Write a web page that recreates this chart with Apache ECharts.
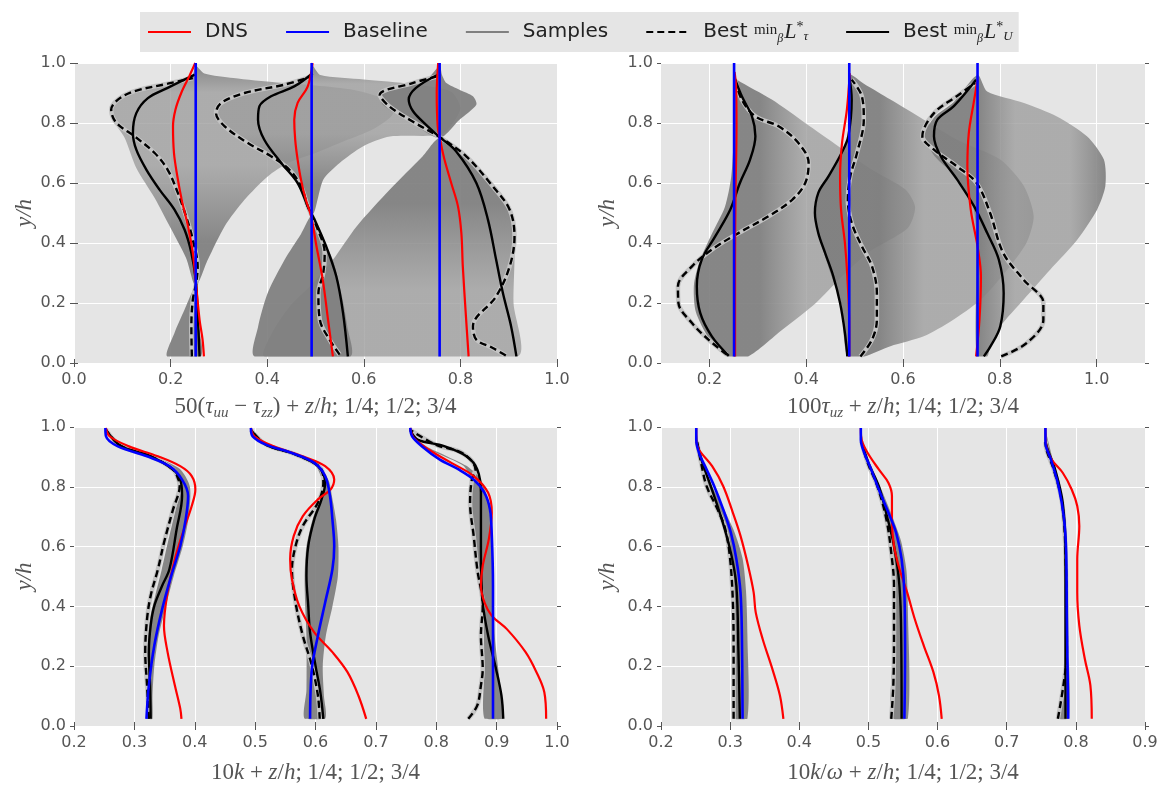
<!DOCTYPE html>
<html>
<head>
<meta charset="utf-8">
<script src="https://cdn.jsdelivr.net/npm/echarts@6/dist/echarts.min.js"></script>
<style>
  html, body { margin: 0; padding: 0; background: #fff; }
  #chart { width: 1165px; height: 788px; }
</style>
</head>
<body>
<div id="chart"></div>
<script>
// profiles at z/h = 1/4, 1/2, 3/4 ; points are [x, y/h]

// ---- top left: 50(tau_uu - tau_zz) + z/h
const tlBase = [
  [[0.252, 0.022], [0.252, 1.0]],
  [[0.492, 0.022], [0.492, 1.0]],
  [[0.757, 0.022], [0.757, 1.0]]
];
const tlDns = [
  [[0.269, 0.022], [0.266, 0.08], [0.260, 0.144], [0.253, 0.256], [0.246, 0.367], [0.236, 0.456], [0.223, 0.544], [0.214, 0.622], [0.207, 0.70], [0.205, 0.789], [0.210, 0.844], [0.222, 0.90], [0.239, 0.957], [0.251, 1.0]],
  [[0.536, 0.022], [0.526, 0.144], [0.515, 0.278], [0.502, 0.389], [0.491, 0.489], [0.480, 0.544], [0.470, 0.611], [0.463, 0.678], [0.458, 0.744], [0.456, 0.811], [0.463, 0.867], [0.484, 0.922], [0.494, 1.0]],
  [[0.817, 0.022], [0.811, 0.167], [0.805, 0.322], [0.802, 0.433], [0.795, 0.522], [0.781, 0.60], [0.767, 0.678], [0.758, 0.744], [0.753, 0.789], [0.751, 0.90], [0.754, 1.0]]
];
const tlSolid = [
  [[0.260, 0.022], [0.256, 0.167], [0.252, 0.278], [0.243, 0.367], [0.229, 0.444], [0.208, 0.511], [0.177, 0.578], [0.150, 0.644], [0.129, 0.711], [0.122, 0.767], [0.129, 0.833], [0.153, 0.883], [0.194, 0.917], [0.250, 0.961]],
  [[0.567, 0.022], [0.557, 0.167], [0.543, 0.289], [0.522, 0.389], [0.498, 0.478], [0.484, 0.522], [0.463, 0.60], [0.429, 0.667], [0.394, 0.744], [0.381, 0.811], [0.384, 0.856], [0.408, 0.889], [0.456, 0.922], [0.494, 0.966]],
  [[0.916, 0.022], [0.905, 0.122], [0.888, 0.233], [0.874, 0.344], [0.857, 0.478], [0.833, 0.60], [0.791, 0.706], [0.757, 0.753], [0.729, 0.794], [0.702, 0.839], [0.693, 0.878], [0.708, 0.917], [0.753, 0.961]]
];
const tlDashed = [
  [[0.244, 0.022], [0.243, 0.122], [0.246, 0.211], [0.253, 0.267], [0.256, 0.322], [0.246, 0.411], [0.232, 0.489], [0.215, 0.567], [0.194, 0.644], [0.167, 0.70], [0.125, 0.756], [0.088, 0.80], [0.077, 0.844], [0.091, 0.878], [0.125, 0.906], [0.194, 0.931], [0.246, 0.950]],
  [[0.550, 0.028], [0.529, 0.078], [0.509, 0.144], [0.506, 0.233], [0.516, 0.30], [0.519, 0.367], [0.502, 0.456], [0.484, 0.522], [0.470, 0.589], [0.446, 0.644], [0.408, 0.689], [0.360, 0.733], [0.312, 0.789], [0.294, 0.833], [0.305, 0.867], [0.353, 0.90], [0.436, 0.928], [0.494, 0.956]],
  [[0.894, 0.025], [0.867, 0.05], [0.833, 0.078], [0.826, 0.122], [0.874, 0.222], [0.902, 0.322], [0.912, 0.422], [0.902, 0.511], [0.867, 0.589], [0.812, 0.689], [0.757, 0.753], [0.701, 0.805], [0.653, 0.855], [0.633, 0.894], [0.701, 0.933], [0.753, 0.956]]
];
// sample envelopes (outline of the grey band)
const tlBandDark = [
  [[0.193, 0.022], [0.208, 0.10], [0.229, 0.178], [0.252, 0.256], [0.256, 0.144], [0.263, 0.022]],
  [[0.374, 0.022], [0.381, 0.12], [0.401, 0.233], [0.436, 0.344], [0.47, 0.43], [0.494, 0.494], [0.516, 0.411], [0.536, 0.344], [0.555, 0.22], [0.566, 0.12], [0.572, 0.022]],
  [[0.757, 0.75], [0.70, 0.80], [0.64, 0.86], [0.635, 0.89], [0.68, 0.925], [0.73, 0.945], [0.757, 0.99], [0.762, 0.96], [0.771, 0.933], [0.798, 0.911], [0.826, 0.889], [0.833, 0.861], [0.798, 0.811]]
];
const tlBandLobe = [
  [[0.252, 0.256], [0.232, 0.35], [0.20, 0.45], [0.167, 0.55], [0.129, 0.65], [0.105, 0.75], [0.085, 0.80], [0.075, 0.845], [0.09, 0.88], [0.13, 0.905], [0.19, 0.93], [0.243, 0.95], [0.252, 0.99], [0.27, 0.965], [0.33, 0.95], [0.42, 0.935], [0.50, 0.925], [0.58, 0.91], [0.64, 0.88], [0.66, 0.83], [0.62, 0.78], [0.56, 0.74], [0.50, 0.70], [0.443, 0.667], [0.401, 0.622], [0.353, 0.544], [0.312, 0.456], [0.277, 0.344]],
  [[0.494, 0.494], [0.47, 0.58], [0.446, 0.635], [0.40, 0.69], [0.35, 0.74], [0.305, 0.79], [0.29, 0.835], [0.30, 0.87], [0.35, 0.90], [0.43, 0.93], [0.49, 0.955], [0.494, 0.99], [0.51, 0.96], [0.60, 0.945], [0.70, 0.93], [0.78, 0.905], [0.80, 0.85], [0.78, 0.79], [0.757, 0.76], [0.654, 0.755], [0.598, 0.722], [0.55, 0.667], [0.516, 0.611]],
  [[0.757, 0.75], [0.722, 0.689], [0.654, 0.578], [0.585, 0.455], [0.536, 0.344], [0.488, 0.255], [0.447, 0.189], [0.41, 0.10], [0.395, 0.022], [0.918, 0.022], [0.91, 0.2], [0.912, 0.35], [0.91, 0.45], [0.89, 0.55], [0.85, 0.63], [0.80, 0.70]]
];

// ---- top right: 100 tau_uz + z/h
const trBase = [
  [[0.251, 0.022], [0.251, 1.0]],
  [[0.489, 0.022], [0.489, 1.0]],
  [[0.754, 0.022], [0.754, 1.0]]
];
const trDns = [
  [[0.253, 0.022], [0.253, 0.344], [0.254, 0.567], [0.256, 0.789], [0.255, 0.922], [0.252, 0.97]],
  [[0.489, 0.022], [0.489, 0.122], [0.485, 0.289], [0.480, 0.40], [0.472, 0.511], [0.470, 0.622], [0.474, 0.733], [0.484, 0.844], [0.490, 0.966]],
  [[0.751, 0.022], [0.758, 0.144], [0.761, 0.289], [0.754, 0.389], [0.740, 0.511], [0.733, 0.656], [0.736, 0.767], [0.746, 0.867], [0.754, 0.944]]
];
const trSolid = [
  [[0.240, 0.024], [0.205, 0.089], [0.181, 0.167], [0.174, 0.256], [0.184, 0.344], [0.212, 0.422], [0.243, 0.511], [0.263, 0.60], [0.284, 0.678], [0.295, 0.756], [0.288, 0.822], [0.267, 0.889], [0.251, 0.955]],
  [[0.485, 0.022], [0.480, 0.10], [0.470, 0.20], [0.456, 0.289], [0.439, 0.367], [0.425, 0.433], [0.418, 0.50], [0.425, 0.567], [0.446, 0.622], [0.473, 0.70], [0.487, 0.756], [0.494, 0.878], [0.489, 0.955]],
  [[0.767, 0.022], [0.781, 0.056], [0.801, 0.122], [0.808, 0.233], [0.798, 0.344], [0.774, 0.433], [0.747, 0.522], [0.712, 0.611], [0.678, 0.689], [0.664, 0.756], [0.671, 0.811], [0.705, 0.856], [0.751, 0.944]]
];
const trDashed = [
  [[0.236, 0.028], [0.198, 0.078], [0.164, 0.133], [0.136, 0.20], [0.135, 0.256], [0.164, 0.322], [0.205, 0.378], [0.260, 0.433], [0.322, 0.489], [0.371, 0.544], [0.398, 0.60], [0.405, 0.667], [0.384, 0.733], [0.343, 0.789], [0.295, 0.822], [0.267, 0.878], [0.253, 0.944]],
  [[0.512, 0.022], [0.536, 0.078], [0.546, 0.144], [0.546, 0.233], [0.536, 0.322], [0.515, 0.389], [0.494, 0.467], [0.486, 0.544], [0.491, 0.622], [0.505, 0.70], [0.519, 0.811], [0.515, 0.889], [0.494, 0.944]],
  [[0.803, 0.022], [0.856, 0.067], [0.890, 0.144], [0.890, 0.20], [0.849, 0.278], [0.807, 0.367], [0.780, 0.50], [0.752, 0.60], [0.711, 0.656], [0.664, 0.711], [0.640, 0.756], [0.664, 0.833], [0.711, 0.889], [0.749, 0.933]]
];
const trBandDark = [];
const trBandLobe = [
  [[0.236, 0.022], [0.20, 0.08], [0.172, 0.17], [0.168, 0.26], [0.18, 0.34], [0.205, 0.43], [0.232, 0.52], [0.245, 0.62], [0.25, 0.75], [0.251, 0.96], [0.257, 0.944], [0.329, 0.878], [0.398, 0.80], [0.467, 0.722], [0.536, 0.644], [0.605, 0.578], [0.625, 0.52], [0.61, 0.45], [0.53, 0.37], [0.474, 0.289], [0.42, 0.20], [0.35, 0.11], [0.28, 0.022]],
  [[0.485, 0.022], [0.472, 0.2], [0.45, 0.3], [0.425, 0.43], [0.416, 0.5], [0.425, 0.57], [0.446, 0.625], [0.473, 0.70], [0.487, 0.76], [0.489, 0.96], [0.52, 0.93], [0.574, 0.878], [0.643, 0.811], [0.712, 0.744], [0.801, 0.678], [0.850, 0.589], [0.870, 0.489], [0.855, 0.40], [0.81, 0.30], [0.76, 0.21], [0.70, 0.14], [0.643, 0.089], [0.574, 0.056], [0.52, 0.022]],
  [[0.752, 0.022], [0.752, 0.40], [0.745, 0.52], [0.71, 0.62], [0.665, 0.69], [0.645, 0.76], [0.665, 0.82], [0.705, 0.87], [0.754, 0.96], [0.774, 0.905], [0.850, 0.867], [0.918, 0.822], [0.980, 0.756], [1.015, 0.678], [1.018, 0.589], [1.001, 0.511], [0.960, 0.411], [0.904, 0.311], [0.849, 0.211], [0.801, 0.122], [0.780, 0.056], [0.774, 0.022]]
];

// ---- bottom left: 10k + z/h
const blBase = [
  [[0.320, 0.024], [0.324, 0.136], [0.333, 0.269], [0.346, 0.391], [0.361, 0.502], [0.376, 0.602], [0.385, 0.691], [0.389, 0.769], [0.379, 0.824], [0.358, 0.869], [0.321, 0.902], [0.272, 0.936], [0.253, 0.969], [0.252, 0.997]],
  [[0.591, 0.024], [0.594, 0.191], [0.604, 0.302], [0.616, 0.413], [0.628, 0.524], [0.631, 0.602], [0.628, 0.691], [0.624, 0.769], [0.616, 0.836], [0.598, 0.88], [0.561, 0.913], [0.518, 0.941], [0.496, 0.969], [0.493, 0.997]],
  [[0.894, 0.024], [0.894, 0.247], [0.894, 0.469], [0.892, 0.636], [0.889, 0.724], [0.880, 0.78], [0.862, 0.824], [0.837, 0.858], [0.806, 0.891], [0.776, 0.936], [0.760, 0.969], [0.757, 0.997]]
];
const blDns = [
  [[0.378, 0.024], [0.376, 0.058], [0.367, 0.136], [0.355, 0.247], [0.349, 0.336], [0.355, 0.447], [0.367, 0.558], [0.382, 0.658], [0.395, 0.736], [0.401, 0.791], [0.395, 0.836], [0.376, 0.869], [0.339, 0.902], [0.290, 0.936], [0.259, 0.969], [0.253, 0.997]],
  [[0.684, 0.024], [0.671, 0.102], [0.653, 0.18], [0.628, 0.247], [0.598, 0.313], [0.573, 0.402], [0.561, 0.491], [0.558, 0.558], [0.564, 0.636], [0.579, 0.702], [0.604, 0.758], [0.625, 0.791], [0.631, 0.824], [0.616, 0.869], [0.579, 0.902], [0.530, 0.936], [0.499, 0.969], [0.493, 0.997]],
  [[0.982, 0.024], [0.979, 0.113], [0.966, 0.18], [0.948, 0.247], [0.917, 0.324], [0.892, 0.369], [0.880, 0.413], [0.874, 0.469], [0.877, 0.536], [0.887, 0.624], [0.892, 0.713], [0.886, 0.78], [0.862, 0.836], [0.825, 0.88], [0.788, 0.924], [0.763, 0.963], [0.757, 0.997]]
];
const blSolid = [
  [[0.327, 0.024], [0.326, 0.136], [0.324, 0.247], [0.327, 0.336], [0.333, 0.402], [0.346, 0.469], [0.358, 0.524], [0.370, 0.658], [0.379, 0.769], [0.376, 0.824], [0.364, 0.858], [0.327, 0.902], [0.278, 0.936], [0.253, 0.99]],
  [[0.613, 0.024], [0.608, 0.113], [0.600, 0.202], [0.591, 0.313], [0.588, 0.402], [0.585, 0.502], [0.588, 0.602], [0.598, 0.691], [0.610, 0.758], [0.616, 0.813], [0.604, 0.869], [0.567, 0.908], [0.518, 0.941], [0.493, 0.99]],
  [[0.911, 0.024], [0.908, 0.102], [0.899, 0.191], [0.886, 0.302], [0.877, 0.413], [0.874, 0.58], [0.874, 0.78], [0.868, 0.858], [0.850, 0.902], [0.813, 0.936], [0.769, 0.958], [0.757, 0.99]]
];
const blDashed = [
  [[0.324, 0.024], [0.321, 0.136], [0.318, 0.247], [0.321, 0.358], [0.327, 0.436], [0.339, 0.524], [0.349, 0.613], [0.364, 0.724], [0.375, 0.802], [0.373, 0.824], [0.364, 0.858], [0.327, 0.902], [0.278, 0.936], [0.253, 0.99]],
  [[0.607, 0.024], [0.604, 0.102], [0.594, 0.202], [0.579, 0.302], [0.567, 0.413], [0.561, 0.524], [0.567, 0.602], [0.579, 0.669], [0.604, 0.747], [0.613, 0.813], [0.610, 0.858], [0.567, 0.908], [0.518, 0.941], [0.493, 0.99]],
  [[0.853, 0.024], [0.868, 0.069], [0.874, 0.136], [0.877, 0.191], [0.874, 0.302], [0.877, 0.402], [0.868, 0.524], [0.862, 0.636], [0.856, 0.747], [0.859, 0.824], [0.865, 0.858], [0.843, 0.913], [0.80, 0.94], [0.757, 0.99]]
];
const blBandDark = [
  [[0.325, 0.024], [0.322, 0.136], [0.321, 0.25], [0.326, 0.36], [0.335, 0.44], [0.345, 0.52], [0.355, 0.61], [0.368, 0.72], [0.378, 0.80], [0.37, 0.85], [0.33, 0.90], [0.28, 0.935], [0.253, 0.99], [0.285, 0.935], [0.335, 0.90], [0.375, 0.86], [0.392, 0.80], [0.390, 0.70], [0.380, 0.60], [0.365, 0.50], [0.352, 0.40], [0.340, 0.30], [0.333, 0.20], [0.330, 0.10], [0.330, 0.024]],
  [[0.582, 0.024], [0.585, 0.12], [0.585, 0.30], [0.583, 0.40], [0.582, 0.50], [0.585, 0.60], [0.595, 0.69], [0.607, 0.76], [0.612, 0.81], [0.600, 0.87], [0.565, 0.91], [0.515, 0.94], [0.493, 0.99], [0.52, 0.94], [0.57, 0.91], [0.605, 0.875], [0.622, 0.82], [0.628, 0.76], [0.634, 0.69], [0.638, 0.60], [0.637, 0.50], [0.628, 0.40], [0.617, 0.30], [0.612, 0.20], [0.614, 0.10], [0.616, 0.024]],
  [[0.880, 0.024], [0.880, 0.20], [0.877, 0.40], [0.870, 0.52], [0.862, 0.64], [0.856, 0.75], [0.858, 0.82], [0.845, 0.87], [0.81, 0.905], [0.775, 0.94], [0.757, 0.99], [0.78, 0.94], [0.82, 0.90], [0.85, 0.87], [0.872, 0.83], [0.885, 0.76], [0.892, 0.64], [0.895, 0.50], [0.897, 0.30], [0.905, 0.15], [0.911, 0.024]]
];
const blBandLobe = [];

// ---- bottom right: 10k/omega + z/h
const brBase = [
  [[0.318, 0.024], [0.317, 0.302], [0.315, 0.447], [0.309, 0.558], [0.301, 0.647], [0.290, 0.724], [0.277, 0.802], [0.266, 0.858], [0.255, 0.913], [0.251, 0.958], [0.251, 0.997]],
  [[0.552, 0.024], [0.553, 0.247], [0.552, 0.447], [0.548, 0.558], [0.540, 0.647], [0.529, 0.713], [0.515, 0.791], [0.504, 0.858], [0.494, 0.913], [0.489, 0.958], [0.489, 0.997]],
  [[0.789, 0.024], [0.787, 0.358], [0.786, 0.58], [0.783, 0.691], [0.775, 0.802], [0.764, 0.891], [0.756, 0.947], [0.756, 0.997]]
];
const brDns = [
  [[0.377, 0.024], [0.372, 0.102], [0.361, 0.191], [0.347, 0.291], [0.337, 0.38], [0.334, 0.447], [0.326, 0.536], [0.315, 0.636], [0.304, 0.713], [0.290, 0.802], [0.274, 0.869], [0.255, 0.924], [0.251, 0.958], [0.251, 0.997]],
  [[0.606, 0.024], [0.602, 0.102], [0.594, 0.18], [0.580, 0.269], [0.567, 0.358], [0.556, 0.447], [0.545, 0.524], [0.537, 0.602], [0.534, 0.691], [0.534, 0.769], [0.529, 0.813], [0.515, 0.858], [0.499, 0.913], [0.490, 0.958], [0.489, 0.997]],
  [[0.823, 0.024], [0.821, 0.136], [0.813, 0.224], [0.805, 0.336], [0.802, 0.447], [0.802, 0.558], [0.805, 0.669], [0.802, 0.736], [0.794, 0.791], [0.781, 0.847], [0.765, 0.891], [0.757, 0.94], [0.756, 0.997]]
];
const brSolid = [
  [[0.314, 0.024], [0.312, 0.247], [0.309, 0.469], [0.301, 0.58], [0.288, 0.691], [0.272, 0.802], [0.260, 0.88], [0.252, 0.95]],
  [[0.548, 0.024], [0.547, 0.358], [0.544, 0.491], [0.537, 0.602], [0.527, 0.70], [0.515, 0.802], [0.500, 0.88], [0.490, 0.95]],
  [[0.785, 0.024], [0.785, 0.358], [0.785, 0.58], [0.781, 0.747], [0.770, 0.858], [0.760, 0.92], [0.756, 0.95]]
];
const brDashed = [
  [[0.305, 0.024], [0.305, 0.247], [0.304, 0.413], [0.300, 0.558], [0.293, 0.658], [0.282, 0.724], [0.266, 0.802], [0.258, 0.88], [0.252, 0.95]],
  [[0.533, 0.024], [0.536, 0.136], [0.537, 0.302], [0.537, 0.469], [0.533, 0.58], [0.526, 0.691], [0.513, 0.802], [0.499, 0.88], [0.490, 0.95]],
  [[0.774, 0.024], [0.782, 0.136], [0.787, 0.247], [0.785, 0.58], [0.780, 0.747], [0.768, 0.858], [0.758, 0.92], [0.756, 0.95]]
];
const brBandDark = [
  [[0.305, 0.024], [0.304, 0.40], [0.299, 0.56], [0.291, 0.66], [0.280, 0.73], [0.265, 0.81], [0.255, 0.90], [0.251, 0.99], [0.258, 0.90], [0.270, 0.82], [0.29, 0.73], [0.306, 0.65], [0.318, 0.56], [0.323, 0.45], [0.325, 0.30], [0.325, 0.024]],
  [[0.533, 0.024], [0.537, 0.30], [0.536, 0.50], [0.531, 0.60], [0.524, 0.70], [0.512, 0.80], [0.498, 0.88], [0.489, 0.99], [0.500, 0.88], [0.517, 0.80], [0.533, 0.71], [0.547, 0.62], [0.555, 0.52], [0.557, 0.40], [0.557, 0.024]],
  [[0.774, 0.024], [0.784, 0.20], [0.783, 0.58], [0.779, 0.75], [0.767, 0.86], [0.756, 0.99], [0.770, 0.86], [0.781, 0.76], [0.787, 0.60], [0.789, 0.30], [0.790, 0.024]]
];
const brBandLobe = [];

// axis ranges and ticks
const xMin = [0.0, 0.1, 0.2, 0.2];
const xMax = [1.0, 1.1, 1.0, 0.9];
const xStep = [0.2, 0.2, 0.1, 0.1];
const trTicks = [0.2, 0.4, 0.6, 0.8, 1.0];
const xNames = [
  '50({i|τ}{s|uu} − {i|τ}{s|zz}) + {i|z}/{i|h}; 1/4; 1/2; 3/4',
  '100{i|τ}{s|uz} + {i|z}/{i|h}; 1/4; 1/2; 3/4',
  '10{i|k} + {i|z}/{i|h}; 1/4; 1/2; 3/4',
  '10{i|k}/{i|ω} + {i|z}/{i|h}; 1/4; 1/2; 3/4'
];

// shading of the wide sample lobes: where the light streaks sit
const panels = [
  { base: tlBase, dns: tlDns, solid: tlSolid, dashed: tlDashed, dark: tlBandDark, lobe: tlBandLobe, shade: ['up', 'up', 'down'] },
  { base: trBase, dns: trDns, solid: trSolid, dashed: trDashed, dark: trBandDark, lobe: trBandLobe, shade: ['side', 'side', 'side'] },
  { base: blBase, dns: blDns, solid: blSolid, dashed: blDashed, dark: blBandDark, lobe: blBandLobe, shade: [] },
  { base: brBase, dns: brDns, solid: brSolid, dashed: brDashed, dark: brBandDark, lobe: brBandLobe, shade: [] }
];

const gridPos = [
  { left: 74, top: 63, width: 483, height: 300 },
  { left: 661, top: 63, width: 484, height: 300 },
  { left: 74, top: 427, width: 483, height: 300 },
  { left: 661, top: 427, width: 484, height: 300 }
];

const TICK = '#555555';
const serif = 'Liberation Serif';

const chart = echarts.init(document.getElementById('chart'));

const xAxes = [];
const yAxes = [];
gridPos.forEach((gp, g) => {
  const custom = g === 1;
  const base = {
    gridIndex: g, type: 'value', min: xMin[g], max: xMax[g],
    axisLine: { show: false },
    axisTick: { show: true, inside: false, length: 4, lineStyle: { color: TICK } }
  };
  if (!custom) base.interval = xStep[g];
  xAxes.push(Object.assign({}, base, {
    position: 'bottom',
    axisTick: Object.assign({}, base.axisTick, custom ? { customValues: trTicks } : {}),
    axisLabel: Object.assign({ color: TICK, fontFamily: 'DejaVu Sans', fontSize: 16, margin: 9,
      formatter: v => v.toFixed(1) }, custom ? { customValues: trTicks } : {}),
    splitLine: { show: true, lineStyle: { color: '#ffffff', width: 1 } },
    name: xNames[g], nameLocation: 'middle', nameGap: g < 2 ? 30 : 33,
    nameTextStyle: {
      fontFamily: serif, fontSize: 23, color: TICK, lineHeight: 28,
      rich: {
        i: { fontFamily: serif, fontStyle: 'italic', fontSize: 23, color: TICK },
        s: { fontFamily: serif, fontStyle: 'italic', fontSize: 15, color: TICK, lineHeight: 15, verticalAlign: 'bottom' }
      }
    }
  }));
  xAxes.push(Object.assign({}, base, {
    position: 'top',
    axisTick: Object.assign({}, base.axisTick, custom ? { customValues: trTicks } : {}),
    axisLabel: { show: false },
    splitLine: { show: false }
  }));
  const ybase = {
    gridIndex: g, type: 'value', min: 0, max: 1, interval: 0.2,
    axisLine: { show: false },
    axisTick: { show: true, inside: false, length: 4, lineStyle: { color: TICK } }
  };
  yAxes.push(Object.assign({}, ybase, {
    position: 'left',
    axisLabel: { color: TICK, fontFamily: 'DejaVu Sans', fontSize: 16, margin: 8, formatter: v => v.toFixed(1) },
    splitLine: { show: true, lineStyle: { color: '#ffffff', width: 1 } },
    name: 'y/h', nameLocation: 'middle', nameRotate: 90, nameGap: g % 2 === 0 ? 38 : 42,
    nameTextStyle: { fontFamily: serif, fontStyle: 'italic', fontSize: 23, color: TICK }
  }));
  yAxes.push(Object.assign({}, ybase, {
    position: 'right',
    axisLabel: { show: false },
    splitLine: { show: false }
  }));
});

const DARK = 'rgba(126,126,126,0.92)';
const LIGHT = 'rgba(158,158,158,0.8)';
function shadeFill(kind) {
  if (kind === 'up') {
    return new echarts.graphic.LinearGradient(0, 0, 0, 1, [
      { offset: 0, color: DARK }, { offset: 0.12, color: LIGHT }, { offset: 0.45, color: LIGHT }, { offset: 0.8, color: DARK }, { offset: 1, color: DARK }
    ]);
  }
  if (kind === 'down') {
    return new echarts.graphic.LinearGradient(0, 0, 0, 1, [
      { offset: 0, color: DARK }, { offset: 0.3, color: DARK }, { offset: 0.7, color: LIGHT }, { offset: 1, color: LIGHT }
    ]);
  }
  if (kind === 'side') {
    return new echarts.graphic.LinearGradient(0, 0, 1, 0, [
      { offset: 0, color: DARK }, { offset: 0.3, color: DARK }, { offset: 0.5, color: LIGHT }, { offset: 0.8, color: LIGHT }, { offset: 1, color: DARK }
    ]);
  }
  return DARK;
}

function bandSeries(poly, g, fill) {
  return {
    type: 'custom', name: 'Samples', xAxisIndex: 2 * g, yAxisIndex: 2 * g,
    data: poly, silent: true, z: 1, animation: false,
    renderItem: (params, api) => {
      if (params.dataIndex !== 0) return null;
      const lo = api.coord([xMin[g], 1.0]);
      const hi = api.coord([xMax[g], 0.022]);
      return {
        type: 'polygon',
        shape: { points: poly.map(p => api.coord(p)), smooth: 0.25, smoothConstraint: [lo, hi] },
        style: { fill: fill }
      };
    }
  };
}

function lineSeries(data, g, name, color, width, type, z) {
  return {
    type: 'line', name: name, data: data, xAxisIndex: 2 * g, yAxisIndex: 2 * g,
    symbol: 'none', showSymbol: false, smooth: 0.35, silent: true, animation: false, z: z,
    lineStyle: { color: color, width: width, type: type }, itemStyle: { color: color }
  };
}

const series = [];
// legend swatch for the sample band
series.push(lineSeries([], 0, 'Samples', '#808080', 3, 'solid', 2));
panels.forEach((p, g) => {
  p.lobe.forEach((poly, k) => series.push(bandSeries(poly, g, shadeFill(p.shade[k]))));
  p.dark.forEach(poly => series.push(bandSeries(poly, g, DARK)));
  p.dashed.forEach(d => series.push(lineSeries(d, g, 'Samples', '#c4c4c4', 4.5, 'solid', 3)));
  p.dashed.forEach(d => series.push(lineSeries(d, g, 'tau', '#000000', 2.4, [7, 4], 4)));
  p.solid.forEach(d => series.push(lineSeries(d, g, 'U', '#000000', 2.4, 'solid', 5)));
  p.dns.forEach(d => series.push(lineSeries(d, g, 'DNS', '#ff0000', 2.2, 'solid', 6)));
  p.base.forEach(d => series.push(lineSeries(d, g, 'Baseline', '#0000ff', 2.6, 'solid', 7)));
});

const legendLabels = {
  tau: 'Best {m|min}{b|β}{L|L}{s|*}{t|τ}',
  U: 'Best {m|min}{b|β}{L|L}{s|*}{t|U}'
};
const INK = '#222222';

chart.setOption({
  animation: false,
  backgroundColor: '#ffffff',
  legend: {
    left: 140, top: 12,
    data: ['DNS', 'Baseline', 'Samples', 'tau', 'U'],
    backgroundColor: '#e5e5e5',
    padding: [5, 6, 5, 7],
    itemWidth: 43, itemHeight: 14, itemGap: 37,
    itemStyle: { opacity: 0 },
    selectedMode: false,
    formatter: n => legendLabels[n] || n,
    textStyle: {
      fontFamily: 'DejaVu Sans', fontSize: 20, color: INK, lineHeight: 30, padding: [0, 0, 0, 9],
      rich: {
        m: { fontFamily: serif, fontSize: 15, color: INK, verticalAlign: 'middle', padding: [0, 0, 4, 0] },
        b: { fontFamily: serif, fontStyle: 'italic', fontSize: 12, color: INK, verticalAlign: 'middle', padding: [14, 0, 0, 0] },
        L: { fontFamily: serif, fontStyle: 'italic', fontSize: 22, color: INK, verticalAlign: 'middle', padding: [0, 0, 0, 1] },
        s: { fontFamily: serif, fontSize: 14, color: INK, verticalAlign: 'middle', padding: [0, 0, 10, 0] },
        t: { fontFamily: serif, fontStyle: 'italic', fontSize: 13, color: INK, verticalAlign: 'middle', padding: [10, 0, 0, 0] }
      }
    }
  },
  grid: gridPos.map(gp => Object.assign({ show: true, backgroundColor: '#e5e5e5', borderWidth: 0, containLabel: false }, gp)),
  xAxis: xAxes,
  yAxis: yAxes,
  series: series
});
</script>
</body>
</html>
